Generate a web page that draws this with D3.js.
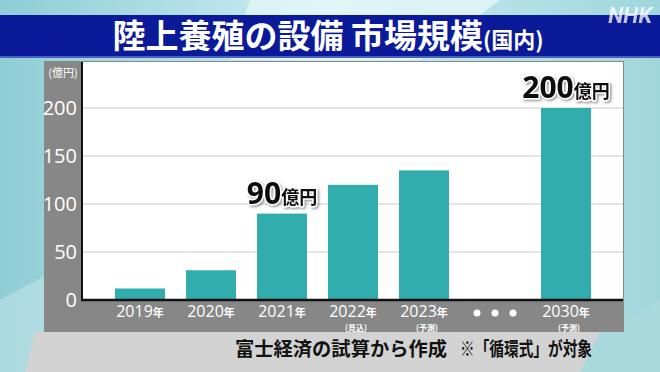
<!DOCTYPE html>
<html>
<head>
<meta charset="utf-8">
<script src="https://cdn.jsdelivr.net/npm/d3@7"></script>
<style>
  body { margin: 0; overflow: hidden; }
  svg { display: block; font-family: "Noto Sans CJK JP", "Noto Sans", sans-serif; }
</style>
</head>
<body>
<svg id="chart" width="660" height="372"></svg>
<script>
// chart data
const years = ['2019', '2020', '2021', '2022', '2023', 'gap', '2030'];
const notes = ['', '', '', '(見込)', '(予測)', '', '(予測)'];
const values = [12, 31, 90, 120, 135, null, 200];
const yTicks = [0, 50, 100, 150, 200];
const callouts = [{ i: 2, num: '90' }, { i: 6, num: '200' }];

const svg = d3.select('#chart');
const W = 660, H = 372;

// background
const defs = svg.append('defs');
const bg = defs.append('linearGradient').attr('id', 'bg')
  .attr('x1', 0).attr('y1', 0).attr('x2', 1).attr('y2', 0);
bg.append('stop').attr('offset', '0%').attr('stop-color', '#8fcdd6');
bg.append('stop').attr('offset', '50%').attr('stop-color', '#cdeef2');
bg.append('stop').attr('offset', '100%').attr('stop-color', '#9fd6dc');
svg.append('rect').attr('width', W).attr('height', H).attr('fill', 'url(#bg)');
svg.append('path').attr('d', 'M250,0 L500,0 L420,60 L230,60 Z').attr('fill', '#e3f6f8').attr('opacity', 0.8);
svg.append('path').attr('d', 'M0,372 L40,372 L120,260 L130,230 L0,300 Z').attr('fill', '#bfe3e8').attr('opacity', 0.6);
// gray floor area at bottom
svg.append('path').attr('d', 'M35,332 L630,332 L600,372 L25,372 Z').attr('fill', '#d3d3d3');
svg.append('path').attr('d', 'M600,332 L660,300 L660,372 L580,372 Z').attr('fill', '#a9d8dd');

const shadow = defs.append('filter').attr('id', 'shadow').attr('x', -0.1).attr('y', -0.2).attr('width', 1.3).attr('height', 1.5);
shadow.append('feDropShadow').attr('dx', 1.5).attr('dy', 1.5).attr('stdDeviation', 1)
  .attr('flood-color', '#555').attr('flood-opacity', 0.6);

// title band
svg.append('rect').attr('x', 0).attr('y', 15).attr('width', W).attr('height', 41).attr('fill', '#0b1a99');
svg.append('rect').attr('x', 0).attr('y', 56).attr('width', W).attr('height', 2).attr('fill', '#4a5fc0');
const title = svg.append('text').attr('x', 328).attr('y', 48)
  .attr('text-anchor', 'middle').attr('fill', '#fff').attr('font-weight', 'bold');
title.append('tspan').attr('font-size', 33).text('陸上養殖の設備 市場規模');
title.append('tspan').attr('font-size', 22).text('(国内)');

// NHK logo
svg.append('text').attr('x', 652).attr('y', 23).attr('text-anchor', 'end')
  .attr('font-family', 'Roboto, sans-serif').attr('font-weight', 'bold').attr('font-style', 'italic')
  .attr('font-size', 22).attr('fill', '#fff').attr('opacity', 0.75).text('NHK');

// panel
const panel = { x: 44, y: 61, w: 580, h: 271 };
const plot = { left: 82, right: 623, top: 62, bottom: 300 };
svg.append('rect').attr('x', panel.x).attr('y', panel.y).attr('width', panel.w).attr('height', panel.h).attr('fill', '#878787');
svg.append('rect').attr('x', plot.left).attr('y', plot.top)
  .attr('width', plot.right - plot.left).attr('height', plot.bottom - plot.top).attr('fill', '#fff');

const x = d3.scaleBand().domain(years).range([104.5, 601.5])
  .paddingInner(21 / 71).paddingOuter(10.5 / 71);
const y = d3.scaleLinear().domain([0, 200]).range([plot.bottom, plot.bottom - 192]);

// gridlines
svg.append('g').selectAll('line').data(yTicks.filter(d => d > 0)).join('line')
  .attr('x1', plot.left).attr('x2', plot.right)
  .attr('y1', d => y(d)).attr('y2', d => y(d))
  .attr('stroke', '#c8c8c8').attr('stroke-width', 1);

// y axis
const yAxis = svg.append('g').attr('transform', `translate(${plot.left},0)`)
  .call(d3.axisLeft(y).tickValues(yTicks).tickSize(0).tickPadding(5));
yAxis.select('.domain').remove();
yAxis.selectAll('text').attr('fill', '#fff').attr('font-size', 20)
  .attr('font-family', '"Open Sans", "Noto Sans", sans-serif');
svg.append('text').attr('x', 63).attr('y', 77).attr('text-anchor', 'middle')
  .attr('fill', '#fff').attr('font-size', 11).text('(億円)');

// bars
svg.append('g').selectAll('rect').data(years.map((d, i) => ({ year: d, v: values[i] })).filter(d => d.v != null))
  .join('rect')
  .attr('x', d => x(d.year)).attr('width', x.bandwidth())
  .attr('y', d => y(d.v)).attr('height', d => y(0) - y(d.v))
  .attr('fill', '#31adad');

// axis lines
svg.append('line').attr('x1', plot.left).attr('x2', plot.left).attr('y1', plot.top).attr('y2', plot.bottom + 1)
  .attr('stroke', '#111').attr('stroke-width', 2);
svg.append('line').attr('x1', plot.left - 1).attr('x2', plot.right).attr('y1', plot.bottom).attr('y2', plot.bottom)
  .attr('stroke', '#111').attr('stroke-width', 2.5);

// x labels
const xl = svg.append('g');
years.forEach((d, i) => {
  const cx = x(d) + x.bandwidth() / 2;
  if (d === 'gap') {
    xl.selectAll(null).data([-18, 0, 18]).join('circle')
      .attr('cx', o => cx + o).attr('cy', 313).attr('r', 3.5).attr('fill', '#fff');
    return;
  }
  const t = xl.append('text').attr('x', cx).attr('y', 317).attr('text-anchor', 'middle').attr('fill', '#fff');
  t.append('tspan').attr('font-size', 16).attr('font-family', '"Open Sans", "Noto Sans", sans-serif').text(d);
  t.append('tspan').attr('font-size', 11).attr('font-weight', 'bold').text('年');
  if (notes[i]) {
    xl.append('text').attr('x', cx + 3).attr('y', 330.5).attr('text-anchor', 'middle')
      .attr('fill', '#fff').attr('font-size', 8).attr('font-weight', 'bold').text(notes[i]);
  }
});

// callouts
callouts.forEach(c => {
  const cx = x(years[c.i]) + x.bandwidth() / 2;
  const cy = y(values[c.i]) - 10;
  const t = svg.append('text').attr('x', cx).attr('y', cy).attr('text-anchor', 'middle')
    .attr('fill', '#111').attr('font-weight', 'bold')
    .attr('stroke', '#fff').attr('stroke-width', 3).attr('stroke-linejoin', 'round')
    .attr('paint-order', 'stroke').attr('filter', 'url(#shadow)');
  t.append('tspan').attr('font-size', 30).attr('font-family', '"Open Sans", "Noto Sans", sans-serif').text(c.num);
  t.append('tspan').attr('font-size', 18).text('億円');
});

// source caption
svg.append('text').attr('x', 235).attr('y', 356).attr('fill', '#111')
  .attr('font-size', 19).attr('font-weight', 'bold')
  .attr('textLength', 212).attr('lengthAdjust', 'spacingAndGlyphs')
  .text('富士経済の試算から作成');
svg.append('text').attr('x', 460).attr('y', 356).attr('fill', '#111')
  .attr('font-size', 19).attr('font-weight', 'bold')
  .attr('textLength', 132).attr('lengthAdjust', 'spacingAndGlyphs')
  .text('※「循環式」が対象');
</script>
</body>
</html>
